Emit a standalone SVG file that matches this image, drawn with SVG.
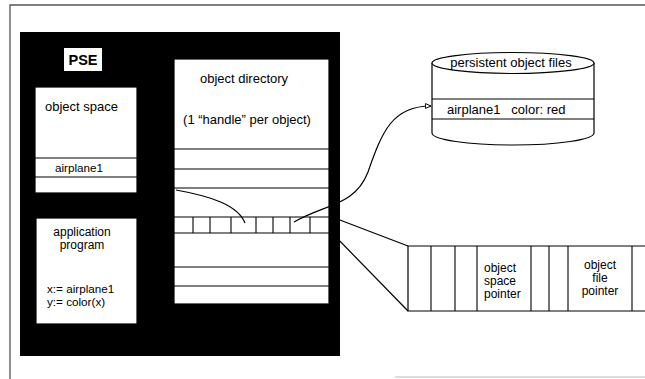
<svg xmlns="http://www.w3.org/2000/svg" width="645" height="379" viewBox="0 0 645 379">
<defs>
<style>
.t{font-family:"Liberation Sans",Arial,sans-serif;font-size:13px;fill:#000}
.s{font-size:11.7px}
.p{font-size:12px}
.w{fill:#fff;stroke:#000;stroke-width:1.2}
.l{stroke:#000;stroke-width:1.1;fill:none}
.c{stroke:#000;stroke-width:1.2;fill:none}
</style>
<marker id="ah" viewBox="0 0 10 10" refX="9" refY="5" markerWidth="7" markerHeight="7" orient="auto" markerUnits="userSpaceOnUse">
<path d="M1,1.5 L9,5 L1,8.5 Z" fill="#fff" stroke="#000" stroke-width="1.4"/>
</marker>
</defs>
<rect width="645" height="379" fill="#fff"/>
<g id="frame">
<path d="M10,379 V5 H645" stroke="#555" stroke-width="1.3" fill="none"/>
<path d="M395,377 H645" stroke="#bbb" stroke-width="1.2" fill="none"/>
</g>
<g id="pse">
<rect x="20" y="32" width="320" height="324" fill="#000"/>
<rect x="64" y="48" width="38" height="23" fill="#fff"/>
<text x="83" y="65" text-anchor="middle" style="font-family:'Liberation Sans',Arial,sans-serif;font-size:14.5px;font-weight:bold">PSE</text>
</g>
<g id="object-space">
<rect x="35" y="87" width="102" height="106" class="w"/>
<line x1="35" y1="158" x2="137" y2="158" class="l"/>
<line x1="35" y1="177" x2="137" y2="177" class="l"/>
<text x="45" y="111" class="t">object space</text>
<text x="79" y="172" class="t s" text-anchor="middle">airplane1</text>
</g>
<g id="application-program">
<rect x="36" y="218" width="101" height="106" class="w"/>
<text x="82" y="236" class="t p" text-anchor="middle">application</text>
<text x="82" y="249" class="t p" text-anchor="middle">program</text>
<text x="47" y="293" class="t s">x:= airplane1</text>
<text x="47" y="306" class="t s">y:= color(x)</text>
</g>
<g id="object-directory">
<rect x="174" y="59" width="155" height="245" class="w"/>
<text x="244" y="83" class="t" text-anchor="middle">object directory</text>
<text x="247" y="124" class="t" text-anchor="middle">(1 “handle” per object)</text>
<line x1="174" y1="149" x2="329" y2="149" class="l"/>
<line x1="174" y1="169" x2="329" y2="169" class="l"/>
<line x1="174" y1="188" x2="329" y2="188" class="l"/>
<line x1="174" y1="217" x2="329" y2="217" class="l"/>
<line x1="174" y1="233" x2="329" y2="233" class="l"/>
<line x1="174" y1="267" x2="329" y2="267" class="l"/>
<line x1="174" y1="286" x2="329" y2="286" class="l"/>
<path d="M193,217V233M210,217V233M231,217V233M256,217V233M273,217V233M290,217V233M310,217V233" class="l"/>
</g>
<g id="persistent-object-files">
<path d="M432,63 V133 A81,12 0 0 0 594,133 V63" class="w"/>
<ellipse cx="513" cy="63" rx="81" ry="10.5" class="w"/>
<line x1="432" y1="99" x2="594" y2="99" class="l"/>
<line x1="432" y1="119" x2="594" y2="119" class="l"/>
<text x="511" y="67" class="t" text-anchor="middle">persistent object files</text>
<text x="447" y="114" class="t" xml:space="preserve">airplane1   color: red</text>
</g>
<g id="handle-record">
<path d="M645,246 H408 V311 H645" class="w"/>
<path d="M431,246V311M455,246V311M477,246V311M531,246V311M549,246V311M568,246V311M632,246V311" class="l"/>
<text x="484" y="272" class="t p">object</text>
<text x="484" y="285" class="t p">space</text>
<text x="484" y="298" class="t p">pointer</text>
<text x="600" y="269" class="t p" text-anchor="middle">object</text>
<text x="600" y="282" class="t p" text-anchor="middle">file</text>
<text x="600" y="295" class="t p" text-anchor="middle">pointer</text>
</g>
<g id="connectors">
<path d="M176,190 C210,196 238,205 245,223" class="c"/>
<path d="M294,222 C325,204 355,206 368,172 C382,132 392,106 431,106" class="c" marker-end="url(#ah)"/>
<path d="M332,217 L408,246" class="c"/>
<path d="M332,233 L408,311" class="c"/>
</g>
</svg>
